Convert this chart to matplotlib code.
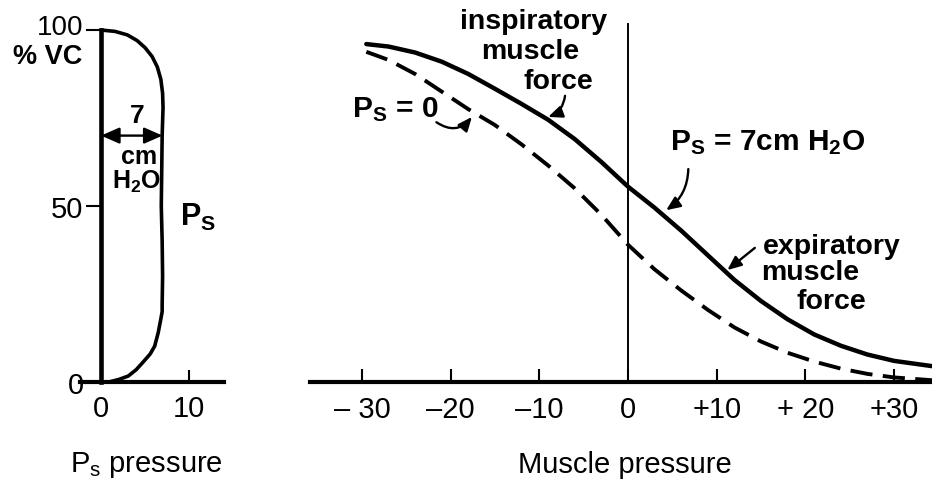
import matplotlib
matplotlib.use("Agg")
import matplotlib.pyplot as plt
from matplotlib.transforms import ScaledTranslation

plt.rcParams["font.family"] = ["Liberation Sans", "DejaVu Sans"]
plt.rcParams["mathtext.fontset"] = "custom"
plt.rcParams["mathtext.rm"] = "Liberation Sans"
plt.rcParams["mathtext.bf"] = "Liberation Sans:bold"
plt.rcParams["mathtext.it"] = "Liberation Sans:italic"
plt.rcParams["lines.scale_dashes"] = False

# ---- data -------------------------------------------------------------
# Left panel: pleural surface pressure (cm H2O) across vital capacity
ps_volume = [100, 99.6, 98.6, 97, 95, 92.5, 89.5, 86, 82, 78,
             70, 60, 50, 40, 30, 22,
             20, 17.9, 14, 10.2, 8, 5.7, 3.5, 1.7, 0.7, 0, 0]
ps_pressure = [0, 1.6, 3.0, 4.1, 5.0, 5.8, 6.4, 6.8, 7.0, 7.05,
               6.95, 6.9, 6.85, 6.95, 7.0, 6.95,
               6.95, 6.8, 6.5, 6.1, 5.6, 4.8, 4.0, 3.1, 2.0, 0.9, 0]
ps_span = 7  # cm H2O, annotated width
ps_span_volume = 70

# Right panel: volume vs muscle pressure
muscle_x = [-29.5, -27, -24, -21, -18, -15, -12, -9, -6, -3, 0, 3, 6, 9,
            12, 15, 18, 21, 24, 27, 30, 34.3]
vol_ps7 = [96, 95.3, 93.6, 91, 87.5, 83.3, 79, 74.5, 69, 62.5, 55.5, 49.5, 43,
           36, 29, 23, 17.8, 13.5, 10.3, 7.8, 6, 4.5]
vol_ps0 = [93.8, 91.5, 87.5, 82.5, 77.5, 73, 67.5, 61.5, 55, 47.5, 39, 32, 26,
           20.5, 15.5, 11.5, 8.3, 5.8, 3.8, 2.3, 1.3, 0.5]

left_yticks = [0, 50, 100]
left_xticks = [0, 10]
right_xticks = [-30, -20, -10, 0, 10, 20, 30]
right_xlabels = ["\u2013 30", "\u201320", "\u201310", "0", "+10", "+ 20", "+30"]

# ---- figure -----------------------------------------------------------
W, H = 932, 489
fig = plt.figure(figsize=(W / 100, H / 100), dpi=100)


def box(x0, x1, ytop, ybot):
    return [x0 / W, 1 - ybot / H, (x1 - x0) / W, (ybot - ytop) / H]


TICK_FS = 21
LBL_FS = 21
BOLD_FS = 20.5
ARROW = dict(arrowstyle="-|>,head_length=0.7,head_width=0.3", color="black",
             lw=1.7, shrinkA=0, shrinkB=0, mutation_scale=12)

# Left panel
axL = fig.add_axes(box(80, 224, 31, 383))
axL.set_facecolor("none")
axL.set_xlim(-21 / 8.8, 123 / 8.8)
axL.set_ylim(0, 100)
for s in ("top", "right"):
    axL.spines[s].set_visible(False)
axL.spines["left"].set_position(("data", 0))
axL.spines["left"].set_linewidth(3.3)
axL.spines["left"].set_bounds(0, 100)
axL.spines["bottom"].set_linewidth(3.0)
axL.set_yticks(left_yticks)
axL.set_yticklabels([str(v) for v in left_yticks], fontsize=TICK_FS)
axL.tick_params(axis="y", direction="out", length=11, width=1.5, pad=1.5)
# lift the top label a little so it sits clear of the "% VC" caption
top_lbl = axL.get_yticklabels()[-1]
top_lbl.set_fontsize(20)
top_lbl.set_transform(top_lbl.get_transform()
                      + ScaledTranslation(0, 4 / 72, fig.dpi_scale_trans))
axL.set_xticks(left_xticks)
axL.set_xticklabels([str(v) for v in left_xticks], fontsize=TICK_FS)
axL.tick_params(axis="x", direction="in", length=9, width=1.5, pad=9)

axL.plot(ps_pressure, ps_volume, color="black", lw=2.6, solid_capstyle="round",
         solid_joinstyle="round", clip_on=False)
axL.annotate("", xy=(ps_span, ps_span_volume), xytext=(0, ps_span_volume),
             arrowprops=dict(arrowstyle="<|-|>,head_length=0.8,head_width=0.35",
                             color="black", lw=1.7, shrinkA=0, shrinkB=0,
                             mutation_scale=14))
axL.text(4.1, 75.8, str(ps_span), ha="center", va="center",
         fontsize=19, fontweight="bold")
axL.text(4.3, 64.3, "cm", ha="center", va="center",
         fontsize=18, fontweight="bold")
axL.text(4.0, 57.0, r"H$_{\mathbf{2}}$O", ha="center", va="center",
         fontsize=18, fontweight="bold")
axL.text(11.0, 47.0, r"$\mathbf{P_S}$", ha="center", va="center", fontsize=22)
axL.text(-6.1, 90.6, "% VC", ha="center", va="baseline", fontsize=19.5,
         fontweight="bold", clip_on=False)

# Right panel
axR = fig.add_axes(box(310, 932, 31, 383))
axR.set_facecolor("none")
axR.set_xlim((310 - 628) / 8.87, (932 - 628) / 8.87)
axR.set_ylim(0, 100)
for s in ("top", "right", "left"):
    axR.spines[s].set_visible(False)
axR.spines["bottom"].set_linewidth(3.0)
axR.set_yticks([])
axR.set_xticks(right_xticks)
axR.set_xticklabels(right_xlabels, fontsize=TICK_FS)
axR.tick_params(axis="x", direction="in", length=9.5, width=1.5, pad=9.5)

axR.plot([0, 0], [0, 101.8], color="black", lw=1.4, clip_on=False)
axR.plot(muscle_x, vol_ps7, color="black", lw=3.2, solid_capstyle="round",
         clip_on=False)
axR.plot(muscle_x, vol_ps0, color="black", lw=2.8, dashes=(16, 7.5),
         dash_capstyle="butt", clip_on=False)

bold = dict(fontsize=BOLD_FS, fontweight="bold", ha="center", va="center")
axR.text(-10.7, 102.6, "inspiratory", clip_on=False, **bold)
axR.text(-11.0, 94.0, "muscle", **bold)
axR.text(-7.9, 85.5, "force", **bold)
axR.annotate("", xy=(-9.0, 75.3), xytext=(-7.1, 81.3),
             arrowprops=dict(connectionstyle="arc3,rad=-0.3", **ARROW))

axR.text(-26.2, 77.6, r"$\mathbf{P_S}$ = 0", fontsize=21.5,
         fontweight="bold", ha="center", va="center")
axR.annotate("", xy=(-17.6, 75.3), xytext=(-21.6, 73.8),
             arrowprops=dict(connectionstyle="arc3,rad=0.45", **ARROW))

axR.text(15.7, 68.2, r"$\mathbf{P_S}$ = 7cm H$_{\mathbf{2}}$O",
         fontsize=21.5, fontweight="bold", ha="center", va="center")
axR.annotate("", xy=(4.3, 48.8), xytext=(6.8, 60.5),
             arrowprops=dict(connectionstyle="arc3,rad=-0.25", **ARROW))

axR.text(23.0, 38.6, "expiratory", **bold)
axR.text(20.5, 31.2, "muscle", **bold)
axR.text(22.9, 23.0, "force", **bold)
axR.annotate("", xy=(11.2, 31.8), xytext=(14.3, 38.1), arrowprops=ARROW)

# Axis titles below each panel
fig.text(146 / W, 1 - 465 / H, r"P$_\mathregular{s}$ pressure", fontsize=LBL_FS,
         ha="center", va="center")
fig.text(625 / W, 1 - 465 / H, "Muscle pressure", fontsize=LBL_FS,
         ha="center", va="center")

fig.savefig("out.png", dpi=100)
